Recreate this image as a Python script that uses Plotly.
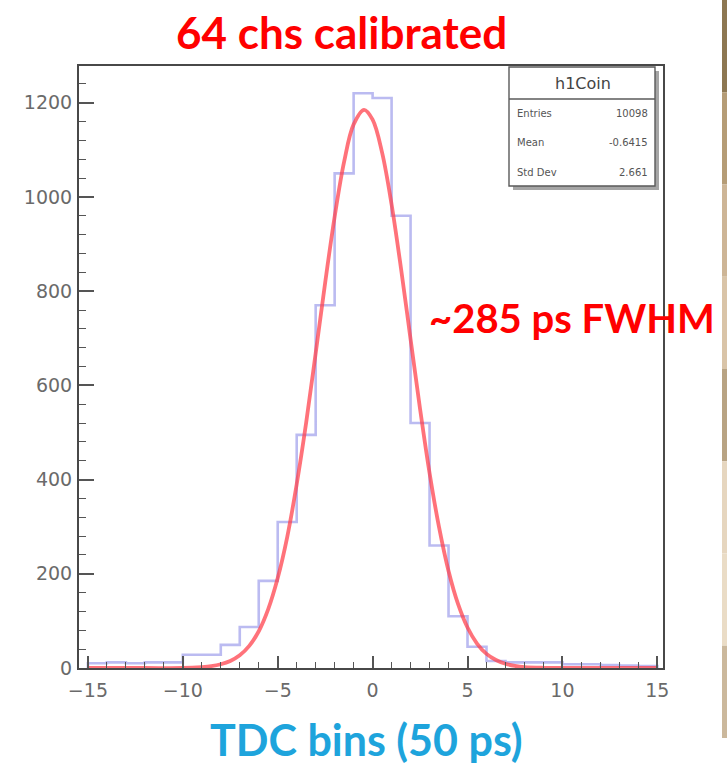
import plotly.graph_objects as go

# ---------------- data ----------------
bin_left_edges = list(range(-15, 15))            # TDC bins, width 1
counts = [10, 12, 10, 12, 12,
          28, 28, 49, 87, 185,
          310, 495, 770, 1050, 1220,
          1210, 960, 520, 260, 110,
          45, 15, 12, 12, 12,
          8, 8, 6, 5, 4]

fit_x = [-15, -12, -10, -9, -8.5, -8, -7.5, -7, -6.5, -6, -5.5, -5, -4.5, -4, -3.5, -3,
         -2.5, -2, -1.5, -1, -0.45, 0, 0.5, 1, 1.5, 2, 2.5, 3, 3.5, 4, 4.5, 5,
         5.5, 6, 6.5, 7, 7.5, 8, 9, 10, 12, 15]
fit_y = [0, 0, 0, 2, 4, 8, 15, 27, 47, 78, 125, 191, 278, 390, 521, 668,
         818, 958, 1075, 1154, 1185, 1164, 1094, 984, 847, 698, 550, 414, 299, 206, 136, 86,
         52, 30, 17, 9, 4.5, 2, 0.4, 0, 0, 0]

stats_title = "h1Coin"
stats_labels = ["Entries", "Mean", "Std Dev"]
stats_values = ["10098", "-0.6415", "2.661"]

title_text = "64 chs calibrated"
fwhm_text = "~285 ps FWHM"
xlabel_text = "TDC bins (50 ps)"

# ---------------- geometry ----------------
W, H = 727, 764
L, R, T, B = 79, 663, 66, 668   # plot frame in pixels


def px(x):
    return (x - L) / (R - L)


def py(y):
    return (B - y) / (B - T)


# step outline
sx = [bin_left_edges[0]] + bin_left_edges + [bin_left_edges[-1] + 1, bin_left_edges[-1] + 1]
sy = [0] + counts + [counts[-1], 0]

fig = go.Figure()
fig.add_trace(go.Scatter(x=sx, y=sy, mode="lines", line_shape="hv",
                         line=dict(color="rgba(120,120,228,0.5)", width=2.6),
                         hoverinfo="skip"))
fig.add_trace(go.Scatter(x=fit_x, y=fit_y, mode="lines", line_shape="spline",
                         line=dict(color="rgba(255,60,70,0.72)", width=3.8),
                         hoverinfo="skip"))

tickfont = dict(family="DejaVu Sans, sans-serif", size=19, color="#6a6a6a")

fig.update_layout(
    width=W, height=H,
    margin=dict(l=L, r=W - R, t=T, b=H - B, pad=0),
    paper_bgcolor="white", plot_bgcolor="white",
    showlegend=False,
    xaxis=dict(range=[-15.47, 15.3], showgrid=False, zeroline=False,
               tick0=0, dtick=5, ticks="inside", ticklen=12, tickwidth=1.5, tickcolor="#555",
               minor=dict(dtick=1, ticks="inside", ticklen=6, tickwidth=1.4, tickcolor="#555"),
               showline=True, linecolor="#484848", linewidth=2, mirror=True,
               tickfont=tickfont, ticklabelstandoff=4),
    yaxis=dict(range=[0, 1278], showgrid=False, zeroline=False,
               tick0=0, dtick=200, ticks="inside", ticklen=15, tickwidth=1.5, tickcolor="#555",
               minor=dict(dtick=40, ticks="inside", ticklen=7, tickwidth=1.4, tickcolor="#555"),
               showline=True, linecolor="#484848", linewidth=2, mirror=True,
               tickfont=tickfont, ticklabelstandoff=1),
)

shapes = []
# stats box shadow + box
shapes.append(dict(type="rect", xref="paper", yref="paper",
                   x0=px(513), x1=px(659), y0=py(190), y1=py(71),
                   fillcolor="#a5a5a5", line=dict(width=0), layer="above"))
shapes.append(dict(type="rect", xref="paper", yref="paper",
                   x0=px(509), x1=px(655), y0=py(186), y1=py(67),
                   fillcolor="white", line=dict(color="#5a5a5a", width=1.4), layer="above"))
shapes.append(dict(type="line", xref="paper", yref="paper",
                   x0=px(509), x1=px(655), y0=py(99), y1=py(99),
                   line=dict(color="#5a5a5a", width=1.4), layer="above"))
# photo strip at the right edge
strip_cols = ["#8d7752", "#b59c76", "#cdb596", "#d9c4a8", "#b8a383", "#e6d6bf", "#eadcc6", "#cbb89c"]
n = len(strip_cols)
for i, c in enumerate(strip_cols):
    shapes.append(dict(type="rect", xref="paper", yref="paper",
                       x0=px(722), x1=px(728), y0=py(i * 738 / n), y1=py((i + 1) * 738 / n),
                       fillcolor=c, line=dict(width=0), layer="above"))
fig.update_layout(shapes=shapes)

ann = []
statfont = dict(family="DejaVu Sans, sans-serif", size=10, color="#555")
ann.append(dict(text=stats_title, xref="paper", yref="paper", x=px(583), y=py(83),
                showarrow=False, xanchor="center", yanchor="middle",
                font=dict(family="DejaVu Sans, sans-serif", size=16, color="#444")))
for i, (lab, val) in enumerate(zip(stats_labels, stats_values)):
    yy = 113 + i * 29.5
    ann.append(dict(text=lab, xref="paper", yref="paper", x=px(515), y=py(yy),
                    showarrow=False, xanchor="left", yanchor="middle", font=statfont))
    ann.append(dict(text=val, xref="paper", yref="paper", x=px(650), y=py(yy),
                    showarrow=False, xanchor="right", yanchor="middle", font=statfont))

bigfont = "Lato, sans-serif"
ann.append(dict(text="<b>%s</b>" % title_text, xref="paper", yref="paper",
                x=px(341), y=py(32), showarrow=False, xanchor="center", yanchor="middle",
                font=dict(family=bigfont, size=44, color="#ff0000")))
ann.append(dict(text="<b>%s</b>" % fwhm_text, xref="paper", yref="paper",
                x=px(427), y=py(318), showarrow=False, xanchor="left", yanchor="middle",
                font=dict(family=bigfont, size=40, color="#ff0000")))
ann.append(dict(text="<b>%s</b>" % xlabel_text, xref="paper", yref="paper",
                x=px(366), y=py(739), showarrow=False, xanchor="center", yanchor="middle",
                font=dict(family=bigfont, size=43, color="#1ea4dc")))
fig.update_layout(annotations=ann)

fig.write_html("out.html")
